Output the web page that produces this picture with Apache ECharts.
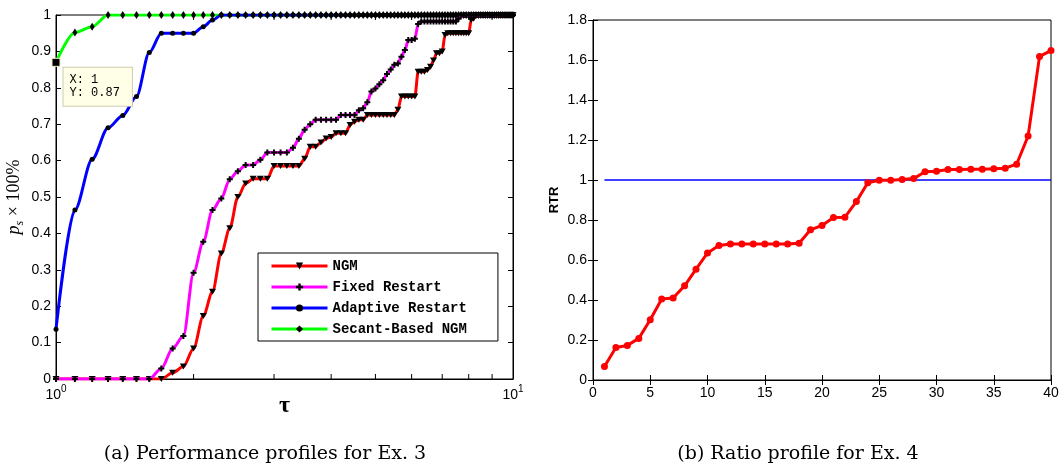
<!DOCTYPE html>
<html>
<head>
<meta charset="utf-8">
<title>Performance and ratio profiles</title>
<script src="https://cdn.jsdelivr.net/npm/echarts@6/dist/echarts.min.js"></script>
</head>
<body style="margin:0;background:#fff">
<div id="main" style="width:1061px;height:469px;"></div>
<script>
// ---- (a) performance profiles for Ex. 3 ----
const tau = [
  1.0, 1.1, 1.2, 1.3, 1.4, 1.5, 1.6, 1.7, 1.8, 1.9,
  2.0, 2.1, 2.2, 2.3, 2.4, 2.5, 2.6, 2.7, 2.8, 2.9,
  3.0, 3.1, 3.2, 3.3, 3.4, 3.5, 3.6, 3.7, 3.8, 3.9,
  4.0, 4.1, 4.2, 4.3, 4.4, 4.5, 4.6, 4.7, 4.8, 4.9,
  5.0, 5.1, 5.2, 5.3, 5.4, 5.5, 5.6, 5.7, 5.8, 5.9,
  6.0, 6.1, 6.2, 6.3, 6.4, 6.5, 6.6, 6.7, 6.8, 6.9,
  7.0, 7.1, 7.2, 7.3, 7.4, 7.5, 7.6, 7.7, 7.8, 7.9,
  8.0, 8.1, 8.2, 8.3, 8.4, 8.5, 8.6, 8.7, 8.8, 8.9,
  9.0, 9.1, 9.2, 9.3, 9.4, 9.5, 9.6, 9.7, 9.8, 9.9,
  10.0
];
const ngm = [
  0, 0, 0, 0, 0, 0, 0, 0, 0.017, 0.034,
  0.084, 0.173, 0.24, 0.345, 0.414, 0.5, 0.537, 0.55, 0.55, 0.55,
  0.585, 0.585, 0.585, 0.585, 0.585, 0.605, 0.638, 0.638, 0.65, 0.661,
  0.665, 0.675, 0.675, 0.675, 0.698, 0.707, 0.712, 0.712, 0.725, 0.725,
  0.725, 0.725, 0.725, 0.725, 0.725, 0.725, 0.74, 0.776, 0.776, 0.776,
  0.776, 0.776, 0.844, 0.844, 0.844, 0.849, 0.858, 0.875, 0.895, 0.895,
  0.9, 0.945, 0.95, 0.95, 0.95, 0.95, 0.95, 0.95, 0.95, 0.95,
  0.95, 0.986, 0.99, 1, 1, 1, 1, 1, 1, 1,
  1, 1, 1, 1, 1, 1, 1, 1, 1, 1,
  1
];
const fixedRestart = [
  0, 0, 0, 0, 0, 0, 0, 0.029, 0.084, 0.118,
  0.292, 0.377, 0.464, 0.496, 0.549, 0.571, 0.588, 0.588, 0.602, 0.622,
  0.622, 0.622, 0.622, 0.635, 0.66, 0.685, 0.7, 0.712, 0.712, 0.712,
  0.712, 0.712, 0.725, 0.725, 0.725, 0.725, 0.738, 0.744, 0.76, 0.79,
  0.798, 0.81, 0.821, 0.838, 0.85, 0.863, 0.867, 0.885, 0.904, 0.931,
  0.931, 0.935, 0.975, 0.982, 0.982, 0.982, 0.982, 0.982, 0.982, 0.982,
  0.982, 0.982, 0.982, 0.982, 0.982, 0.982, 0.99, 1, 1, 1,
  1, 1, 1, 1, 1, 1, 1, 1, 1, 1,
  1, 1, 1, 1, 1, 1, 1, 1, 1, 1,
  1
];
const adaptiveRestart = [
  0.137, 0.464, 0.604, 0.69, 0.724, 0.776, 0.897, 0.95, 0.95, 0.95,
  0.95, 0.968, 0.986, 1, 1, 1, 1, 1, 1, 1,
  1, 1, 1, 1, 1, 1, 1, 1, 1, 1,
  1, 1, 1, 1, 1, 1, 1, 1, 1, 1,
  1, 1, 1, 1, 1, 1, 1, 1, 1, 1,
  1, 1, 1, 1, 1, 1, 1, 1, 1, 1,
  1, 1, 1, 1, 1, 1, 1, 1, 1, 1,
  1, 1, 1, 1, 1, 1, 1, 1, 1, 1,
  1, 1, 1, 1, 1, 1, 1, 1, 1, 1,
  1
];
const secantNgm = [
  0.87, 0.952, 0.968, 1, 1, 1, 1, 1, 1, 1,
  1, 1, 1, 1, 1, 1, 1, 1, 1, 1,
  1, 1, 1, 1, 1, 1, 1, 1, 1, 1,
  1, 1, 1, 1, 1, 1, 1, 1, 1, 1,
  1, 1, 1, 1, 1, 1, 1, 1, 1, 1,
  1, 1, 1, 1, 1, 1, 1, 1, 1, 1,
  1, 1, 1, 1, 1, 1, 1, 1, 1, 1,
  1, 1, 1, 1, 1, 1, 1, 1, 1, 1,
  1, 1, 1, 1, 1, 1, 1, 1, 1, 1,
  1
];
const minorTicks = [2, 3, 4, 5, 6, 7, 8, 9];

// ---- (b) ratio profile for Ex. 4 ----
const runs = [
  1, 2, 3, 4, 5, 6, 7, 8, 9, 10, 11, 12, 13, 14, 15, 16, 17, 18, 19, 20,
  21, 22, 23, 24, 25, 26, 27, 28, 29, 30, 31, 32, 33, 34, 35, 36, 37, 38, 39, 40
];
const rtr = [
  0.068, 0.163, 0.173, 0.208, 0.301, 0.405, 0.41, 0.471, 0.554, 0.635,
  0.672, 0.68, 0.68, 0.68, 0.68, 0.68, 0.68, 0.684, 0.751, 0.773,
  0.813, 0.814, 0.892, 0.986, 0.999, 0.999, 1.002, 1.007, 1.041, 1.044,
  1.052, 1.052, 1.054, 1.054, 1.056, 1.059, 1.079, 1.22, 1.618, 1.647
];
const rtrBase = 1;

const sans = 'Liberation Sans';
const serif = 'Liberation Serif';
const mono = 'Liberation Mono';

let myChart = echarts.init(document.getElementById('main'));

function pairs(ys) {
  return tau.map((t, i) => [t, ys[i]]);
}

const tickLabel = { color: '#000', fontFamily: sans, fontSize: 14 };
const plusPath = 'path://M2,0H4V2H6V4H4V6H2V4H0V2H2Z';

let option = {
  animation: false,
  backgroundColor: '#fff',
  grid: [
    { left: 56, top: 15, width: 457, height: 364, show: true, borderColor: '#000', borderWidth: 1, outerBoundsMode: 'none' },
    { left: 593, top: 20, width: 458, height: 360, show: true, borderColor: '#000', borderWidth: 1, outerBoundsMode: 'none' }
  ],
  legend: {
    data: ['NGM', 'Fixed Restart', 'Adaptive Restart', 'Secant-Based NGM'],
    orient: 'vertical',
    left: 258,
    top: 253,
    backgroundColor: '#fff',
    borderColor: '#000',
    borderWidth: 1,
    borderRadius: 0,
    padding: [6, 31, 5, 12],
    itemWidth: 56,
    itemHeight: 9,
    itemGap: 7,
    lineStyle: { width: 3 },
    textStyle: { fontFamily: mono, fontWeight: 'bold', fontSize: 14, lineHeight: 14, color: '#000' },
    z: 20
  },
  xAxis: [
    {
      type: 'log', logBase: 10, gridIndex: 0, min: 1, max: 10,
      name: 'τ', nameLocation: 'middle', nameGap: 15, nameMoveOverlap: false,
      nameTextStyle: { fontFamily: serif, fontSize: 24, fontWeight: 'bold', color: '#000' },
      axisLine: { lineStyle: { color: '#000' } },
      axisTick: { show: false },
      splitLine: { show: false },
      axisLabel: {
        margin: 5, color: '#000',
        formatter: v => '{b|10}{sup|' + Math.round(Math.log10(v)) + '}',
        rich: {
          b: { fontFamily: sans, fontSize: 14, lineHeight: 22, color: '#000' },
          sup: { fontFamily: sans, fontSize: 10, lineHeight: 10, verticalAlign: 'top', color: '#000' }
        }
      }
    },
    {
      type: 'value', gridIndex: 1, min: 0, max: 40, interval: 5,
      axisLine: { lineStyle: { color: '#000' } },
      axisTick: { inside: true, length: 5, lineStyle: { color: '#000' } },
      splitLine: { show: false },
      axisLabel: Object.assign({ margin: 6 }, tickLabel)
    },
    {
      type: 'value', gridIndex: 1, position: 'top', min: 0, max: 40, interval: 5,
      axisLine: { lineStyle: { color: '#000' } },
      axisTick: { inside: true, length: 5, lineStyle: { color: '#000' } },
      splitLine: { show: false },
      axisLabel: { show: false }
    }
  ],
  yAxis: [
    {
      type: 'value', gridIndex: 0, min: 0, max: 1, interval: 0.1,
      name: '{p|p}{s|s}{t| × 100%}', nameLocation: 'middle', nameGap: 30,
      nameTextStyle: {
        rich: {
          p: { fontFamily: serif, fontStyle: 'italic', fontSize: 18, lineHeight: 24, color: '#000' },
          s: { fontFamily: serif, fontStyle: 'italic', fontSize: 12, lineHeight: 13, verticalAlign: 'bottom', color: '#000' },
          t: { fontFamily: serif, fontSize: 18, lineHeight: 24, color: '#000' }
        }
      },
      axisLine: { lineStyle: { color: '#000' } },
      axisTick: { inside: true, length: 5, lineStyle: { color: '#000' } },
      splitLine: { show: false },
      axisLabel: Object.assign({ margin: 5 }, tickLabel)
    },
    {
      type: 'value', gridIndex: 0, position: 'right', min: 0, max: 1, interval: 0.1,
      axisLine: { lineStyle: { color: '#000' } },
      axisTick: { inside: true, length: 5, lineStyle: { color: '#000' } },
      splitLine: { show: false },
      axisLabel: { show: false }
    },
    {
      type: 'value', gridIndex: 1, min: 0, max: 1.8, interval: 0.2,
      name: 'RTR', nameLocation: 'middle', nameGap: 32,
      nameTextStyle: { fontFamily: sans, fontSize: 13, fontWeight: 'bold', color: '#000' },
      axisLine: { lineStyle: { color: '#000' } },
      axisTick: { inside: true, length: 5, lineStyle: { color: '#000' } },
      splitLine: { show: false },
      axisLabel: Object.assign({ margin: 6 }, tickLabel)
    },
    {
      type: 'value', gridIndex: 1, position: 'right', min: 0, max: 1.8, interval: 0.2,
      axisLine: { lineStyle: { color: '#000' } },
      axisTick: { inside: true, length: 5, lineStyle: { color: '#000' } },
      splitLine: { show: false },
      axisLabel: { show: false }
    }
  ],
  series: [
    {
      // minor ticks of the log axis, bottom and top
      type: 'custom', xAxisIndex: 0, yAxisIndex: 0, silent: true, z: 1,
      data: minorTicks.map(v => [v, 0]),
      renderItem: function (params, api) {
        const b = api.coord([api.value(0), 0]);
        const t = api.coord([api.value(0), 1]);
        return {
          type: 'group',
          children: [
            { type: 'line', shape: { x1: b[0], y1: b[1], x2: b[0], y2: b[1] - 5 }, style: { stroke: '#000', lineWidth: 1 } },
            { type: 'line', shape: { x1: t[0], y1: t[1], x2: t[0], y2: t[1] + 5 }, style: { stroke: '#000', lineWidth: 1 } }
          ]
        };
      }
    },
    {
      name: 'Secant-Based NGM', type: 'line', xAxisIndex: 0, yAxisIndex: 0, z: 2,
      data: pairs(secantNgm), smooth: 0.3, smoothMonotone: 'x',
      symbol: 'diamond', symbolSize: [5, 8], showAllSymbol: true,
      itemStyle: { color: '#000' },
      lineStyle: { color: '#00ff00', width: 3 },
      markPoint: {
        symbol: 'rect', symbolSize: 8,
        itemStyle: { color: '#000', borderColor: '#f2eec2', borderWidth: 1 },
        data: [{ coord: [tau[0], secantNgm[0]] }],
        label: {
          show: true, position: [12, 10], align: 'left', verticalAlign: 'top',
          formatter: 'X: ' + tau[0] + '\nY: ' + secantNgm[0],
          fontFamily: mono, fontSize: 12, lineHeight: 13, color: '#000',
          backgroundColor: '#fffee6', borderColor: '#cfcbb0', borderWidth: 1,
          padding: [6, 12, 6, 6]
        }
      }
    },
    {
      name: 'Adaptive Restart', type: 'line', xAxisIndex: 0, yAxisIndex: 0, z: 3,
      data: pairs(adaptiveRestart), smooth: 0.3, smoothMonotone: 'x',
      symbol: 'circle', symbolSize: 5, showAllSymbol: true,
      itemStyle: { color: '#000' },
      lineStyle: { color: '#0000ff', width: 3 }
    },
    {
      name: 'NGM', type: 'line', xAxisIndex: 0, yAxisIndex: 0, z: 4,
      data: pairs(ngm), smooth: 0.3, smoothMonotone: 'x',
      symbol: 'triangle', symbolRotate: 180, symbolSize: [7, 6], showAllSymbol: true,
      itemStyle: { color: '#000' },
      lineStyle: { color: '#ff0000', width: 3 }
    },
    {
      name: 'Fixed Restart', type: 'line', xAxisIndex: 0, yAxisIndex: 0, z: 5,
      data: pairs(fixedRestart), smooth: 0.3, smoothMonotone: 'x',
      symbol: plusPath, symbolSize: 6, showAllSymbol: true,
      itemStyle: { color: '#000' },
      lineStyle: { color: '#ff00ff', width: 3 }
    },
    {
      type: 'line', xAxisIndex: 1, yAxisIndex: 2, z: 2,
      data: [[runs[0], rtrBase], [runs[runs.length - 1], rtrBase]],
      symbol: 'none', lineStyle: { color: '#0000ff', width: 1.5 }
    },
    {
      type: 'line', xAxisIndex: 1, yAxisIndex: 2, z: 3,
      data: runs.map((r, i) => [r, rtr[i]]),
      symbol: 'circle', symbolSize: 7, showAllSymbol: true,
      itemStyle: { color: '#ff0000' },
      lineStyle: { color: '#ff0000', width: 3 }
    }
  ],
  graphic: [
    { type: 'text', x: 265, y: 445, style: { text: '(a) Performance profiles for Ex. 3', align: 'center', textAlign: 'center', fontFamily: 'DejaVu Serif', fontSize: 19, fill: '#000' } },
    { type: 'text', x: 798, y: 445, style: { text: '(b) Ratio profile for Ex. 4', align: 'center', textAlign: 'center', fontFamily: 'DejaVu Serif', fontSize: 19, fill: '#000' } }
  ]
};

myChart.setOption(option);
</script>
</body>
</html>
